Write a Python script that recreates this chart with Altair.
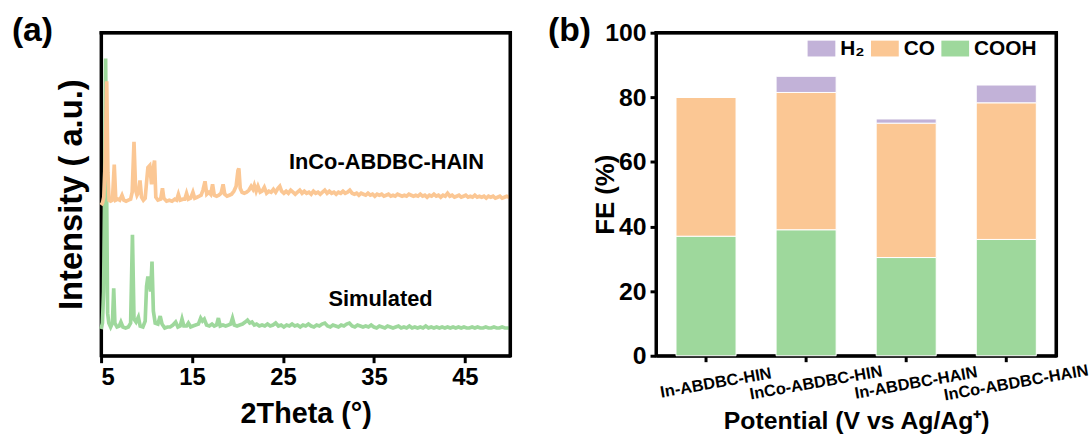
import altair as alt
import pandas as pd

# ---------------- (a) powder XRD patterns: (2theta, intensity in a.u.) ----------------
sim_pattern = [
    (5.00, 27), (5.15, 33), (5.28, 65), (5.38, 155), (5.50, 300), (5.60, 175), (5.72, 43), (5.85, 33),
    (6.05, 29), (6.25, 33), (6.39, 68), (6.52, 33), (6.75, 29), (7.00, 30), (7.18, 34), (7.40, 29),
    (7.70, 28), (8.00, 29), (8.25, 33), (8.45, 122), (8.62, 37), (8.85, 34), (9.10, 39), (9.30, 30),
    (9.60, 29), (9.85, 35), (10.00, 70), (10.15, 80), (10.30, 73), (10.45, 65), (10.60, 95), (10.75, 45),
    (10.95, 33), (11.25, 32), (11.50, 40), (11.70, 32), (12.00, 28), (12.30, 29), (12.60, 29), (12.90, 31),
    (13.20, 34), (13.45, 29), (13.70, 30), (13.90, 37), (14.10, 30), (14.40, 30), (14.60, 33), (14.85, 29),
    (15.10, 30), (15.40, 31), (15.70, 32), (15.95, 38), (16.15, 35), (16.35, 37), (16.60, 31), (16.90, 30),
    (17.20, 32), (17.45, 30), (17.70, 31), (17.90, 38), (18.10, 30), (18.40, 31), (18.70, 30), (19.00, 31),
    (19.25, 32), (19.45, 38), (19.65, 31), (19.95, 30), (20.25, 31), (20.55, 32), (20.85, 34), (21.10, 36),
    (21.35, 33), (21.60, 34), (21.85, 31), (22.10, 32), (22.40, 30), (22.70, 31), (23.00, 30), (23.30, 32),
    (23.60, 30), (23.90, 31), (24.20, 33), (24.50, 30), (24.80, 31), (25.10, 29), (25.40, 31), (25.70, 30),
    (26.00, 32), (26.30, 30), (26.60, 31), (26.90, 29), (27.20, 31), (27.50, 30), (27.80, 32), (28.10, 30),
    (28.40, 29), (28.70, 31), (29.00, 30), (29.30, 32), (29.60, 33), (29.90, 30), (30.20, 29), (30.50, 31),
    (30.80, 30), (31.10, 29), (31.40, 31), (31.70, 30), (32.00, 32), (32.30, 33), (32.60, 30), (32.90, 29),
    (33.20, 31), (33.50, 30), (33.80, 29), (34.10, 30), (34.40, 29), (34.70, 31), (35.00, 29), (35.30, 28),
    (35.60, 30), (35.90, 29), (36.20, 28), (36.50, 30), (36.80, 29), (37.10, 28), (37.40, 29), (37.70, 30),
    (38.00, 28), (38.30, 29), (38.60, 28), (38.90, 30), (39.20, 28), (39.50, 29), (39.80, 28), (40.10, 29),
    (40.40, 28), (40.70, 30), (41.00, 28), (41.30, 29), (41.60, 28), (41.90, 29), (42.20, 28), (42.50, 29),
    (42.80, 28), (43.10, 29), (43.40, 28), (43.70, 29), (44.00, 28), (44.30, 29), (44.60, 28), (44.90, 29),
    (45.20, 28), (45.50, 28), (45.80, 29), (46.10, 28), (46.40, 29), (46.70, 28), (47.00, 28), (47.30, 29),
    (47.60, 28), (47.90, 28), (48.20, 29), (48.50, 28), (48.80, 28), (49.10, 29), (49.40, 28), (49.70, 28),
    (50.00, 28),
]

inco_pattern = [
    (5.00, 152), (5.15, 154), (5.30, 160), (5.45, 195), (5.62, 277), (5.75, 185), (5.88, 157),
    (6.05, 156), (6.25, 157), (6.45, 193), (6.62, 157), (6.85, 158), (7.05, 157), (7.30, 162), (7.50, 157),
    (7.75, 156), (8.00, 157), (8.25, 158), (8.42, 165), (8.62, 216), (8.80, 167), (8.95, 162), (9.12, 165),
    (9.28, 177), (9.45, 160), (9.65, 157), (9.85, 159), (10.02, 177), (10.15, 190), (10.35, 192), (10.55, 173),
    (10.75, 190), (10.88, 197), (11.02, 160), (11.25, 157), (11.55, 158), (11.75, 169), (11.90, 159),
    (12.20, 156), (12.50, 157), (12.80, 156), (13.10, 158), (13.30, 157), (13.50, 163), (13.70, 157),
    (14.00, 158), (14.20, 158), (14.40, 164), (14.60, 158), (14.85, 159), (15.10, 165), (15.30, 159),
    (15.55, 160), (15.80, 161), (16.00, 162), (16.20, 167), (16.43, 176), (16.62, 163), (16.85, 165),
    (17.05, 163), (17.26, 173), (17.45, 162), (17.70, 161), (17.95, 162), (18.20, 164), (18.42, 173),
    (18.60, 163), (18.85, 161), (19.10, 162), (19.35, 163), (19.60, 166), (19.85, 171), (20.05, 187),
    (20.15, 189), (20.30, 169), (20.50, 165), (20.75, 164), (21.00, 165), (21.25, 167), (21.50, 171),
    (21.70, 168), (21.85, 172), (22.05, 166), (22.25, 171), (22.50, 165), (22.70, 166), (22.95, 170),
    (23.20, 164), (23.45, 166), (23.70, 165), (23.95, 168), (24.20, 165), (24.45, 169), (24.65, 171),
    (24.85, 166), (25.10, 164), (25.35, 166), (25.60, 164), (25.85, 167), (26.10, 165), (26.35, 163),
    (26.60, 165), (26.85, 167), (27.10, 164), (27.35, 166), (27.60, 164), (27.85, 165), (28.10, 163),
    (28.35, 166), (28.60, 164), (28.85, 165), (29.10, 163), (29.35, 165), (29.60, 167), (29.85, 164),
    (30.10, 166), (30.35, 164), (30.60, 165), (30.85, 163), (31.10, 165), (31.35, 164), (31.60, 166),
    (31.85, 164), (32.10, 165), (32.35, 167), (32.60, 164), (32.85, 163), (33.10, 164), (33.35, 162),
    (33.60, 164), (33.85, 163), (34.10, 162), (34.35, 164), (34.60, 162), (34.85, 163), (35.10, 161),
    (35.35, 163), (35.60, 162), (35.85, 163), (36.10, 161), (36.35, 162), (36.60, 163), (36.85, 161),
    (37.10, 162), (37.35, 161), (37.60, 163), (37.85, 162), (38.10, 161), (38.35, 162), (38.60, 161),
    (38.85, 163), (39.10, 162), (39.35, 161), (39.60, 162), (39.85, 161), (40.10, 163), (40.35, 161),
    (40.60, 162), (40.85, 160), (41.10, 162), (41.35, 161), (41.60, 163), (41.85, 161), (42.10, 162),
    (42.35, 160), (42.60, 162), (42.85, 161), (43.10, 164), (43.35, 161), (43.60, 162), (43.85, 160),
    (44.10, 161), (44.35, 162), (44.60, 160), (44.85, 161), (45.10, 162), (45.35, 160), (45.60, 161),
    (45.85, 160), (46.10, 162), (46.35, 160), (46.60, 161), (46.85, 160), (47.10, 161), (47.35, 159),
    (47.60, 161), (47.85, 160), (48.10, 161), (48.35, 159), (48.60, 160), (48.85, 161), (49.10, 159),
    (49.35, 160), (49.60, 161), (49.85, 160), (50.00, 160),
]

xrd_ticks = [5, 15, 25, 35, 45]

# ---------------- (b) Faradaic efficiency (%) ----------------
catalysts = ["In-ABDBC-HIN", "InCo-ABDBC-HIN", "In-ABDBC-HAIN", "InCo-ABDBC-HAIN"]
products = ["H\u2082", "CO", "COOH"]
fe_cooh = [37.0, 39.0, 30.4, 36.0]
fe_co = [43.0, 42.5, 41.6, 42.3]
fe_h2 = [0.0, 5.0, 1.3, 5.5]

FONT = "Liberation Sans"
GREEN = "#9ed89c"
ORANGE = "#fbc794"
PURPLE = "#c2b2d8"
INK = "black"

W_A, W_B, H = 413, 404, 326

sim_df = pd.DataFrame(sim_pattern, columns=["two_theta", "intensity"])
inco_df = pd.DataFrame(inco_pattern, columns=["two_theta", "intensity"])

xa_scale = alt.Scale(domain=[5, 50], nice=False, zero=False)
ya_scale = alt.Scale(domain=[0, 326], nice=False)

sim_line = alt.Chart(sim_df).mark_line(color=GREEN, strokeWidth=3.7).encode(
    x=alt.X(
        "two_theta:Q", scale=xa_scale,
        axis=alt.Axis(
            values=xrd_ticks, title="2Theta (\u00b0)", tickSize=7, labelPadding=3,
            labelFontSize=24, titleFontSize=29, titlePadding=10, grid=False,
        ),
    ),
    y=alt.Y(
        "intensity:Q", scale=ya_scale,
        axis=alt.Axis(
            title="Intensity ( a.u.)", labels=False, ticks=False, grid=False,
            titleFontSize=33, titlePadding=13,
        ),
    ),
)
inco_line = alt.Chart(inco_df).mark_line(color=ORANGE, strokeWidth=3.7).encode(
    x=alt.X("two_theta:Q", scale=xa_scale),
    y=alt.Y("intensity:Q", scale=ya_scale),
)

blank = alt.Data(values=[{}])


def note(text, x, y, size, align="center", baseline="middle"):
    return alt.Chart(blank).mark_text(
        text=text, font=FONT, fontWeight="bold", fontSize=size, color=INK,
        align=align, baseline=baseline,
    ).encode(x=alt.value(x), y=alt.value(y))


def top_edge(width):
    # upper side of the panel box
    return alt.Chart(blank).mark_rule(color=INK, strokeWidth=3.5).encode(
        x=alt.value(-1.5), x2=alt.value(width + 1.5), y=alt.value(0)
    )


def right_edge(width):
    # right side of the panel box
    return alt.Chart(blank).mark_rule(color=INK, strokeWidth=3.5).encode(
        x=alt.value(width), y=alt.value(-1.5), y2=alt.value(H + 1.5)
    )


panel_a = alt.layer(
    sim_line,
    inco_line,
    note("InCo-ABDBC-HAIN", 288, 131, 22),
    note("Simulated", 282, 269, 22),
    note("(a)", -90, -19, 34, align="left", baseline="top"),
    top_edge(W_A),
    right_edge(W_A),
).properties(width=W_A, height=H)

# stacked bars
rows = []
for i, cat in enumerate(catalysts):
    rows.append({"catalyst": cat, "product": "COOH", "fe": fe_cooh[i], "stack": 0})
    rows.append({"catalyst": cat, "product": "CO", "fe": fe_co[i], "stack": 1})
    rows.append({"catalyst": cat, "product": "H\u2082", "fe": fe_h2[i], "stack": 2})
fe_df = pd.DataFrame(rows)

bars = alt.Chart(fe_df).mark_bar(stroke="white", strokeWidth=1).encode(
    x=alt.X(
        "catalyst:N", sort=catalysts,
        scale=alt.Scale(paddingInner=0.4, paddingOuter=0.2),
        axis=alt.Axis(
            title="Potential (V vs Ag/Ag\u207a)", labelAngle=350, labelAlign="center",
            labelBaseline="middle", labelPadding=21, labelOffset=10, labelFontSize=16.5,
            labelOverlap=False, tickSize=6, titleFontSize=25, titlePadding=5,
        ),
    ),
    y=alt.Y(
        "fe:Q", stack="zero",
        scale=alt.Scale(domain=[0, 100], nice=False),
        axis=alt.Axis(
            title="FE (%)", values=[0, 20, 40, 60, 80, 100], tickSize=6, labelPadding=4,
            labelFontSize=25, titleFontSize=26, titlePadding=-14, grid=False,
        ),
    ),
    color=alt.Color(
        "product:N",
        scale=alt.Scale(domain=products, range=[PURPLE, ORANGE, GREEN]),
        legend=alt.Legend(
            title=None, orient="none", legendX=713, legendY=2, direction="horizontal",
            symbolType="M-1,-0.571L1,-0.571L1,0.571L-1,0.571Z", symbolSize=784,
            symbolStrokeWidth=0, symbolOpacity=1, labelFont=FONT, labelFontWeight="bold",
            labelFontSize=21, labelColor=INK, labelOffset=5, columnPadding=6,
        ),
    ),
    order=alt.Order("stack:Q", sort="ascending"),
)

panel_b = alt.layer(
    bars,
    note("(b)", -109, -19, 34, align="left", baseline="top"),
    top_edge(W_B),
    right_edge(W_B),
).properties(width=W_B, height=H)

chart = (
    alt.hconcat(panel_a, panel_b, spacing=27)
    .properties(
        background="white",
        padding={"left": 10, "top": 10, "right": 0, "bottom": 0},
    )
    .configure_view(stroke=INK, strokeWidth=3)
    .configure_axis(
        domainColor=INK, domainWidth=3, tickColor=INK, tickWidth=3,
        labelFont=FONT, labelFontWeight="bold", labelColor=INK,
        titleFont=FONT, titleFontWeight="bold", titleColor=INK,
    )
)

chart.save("out.html", embed_options={"renderer": "svg", "actions": False})
